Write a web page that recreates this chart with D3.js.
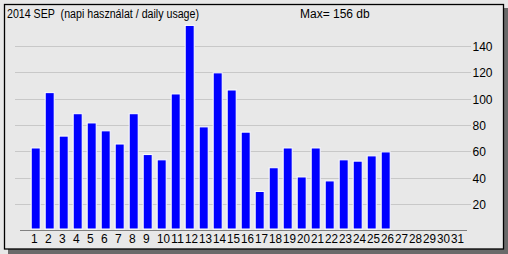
<!DOCTYPE html>
<html>
<head>
<meta charset="utf-8">
<script src="https://cdn.jsdelivr.net/npm/d3@7"></script>
<style>
  html, body { margin: 0; padding: 0; background: #e8e8e8; }
  svg { display: block; }
  text { font-family: "Liberation Sans", Arial, sans-serif; font-size: 11px; fill: #000; white-space: pre; }
</style>
</head>
<body>
<div id="chart"></div>
<script>
// napi használat, 2014 SEP
var days = d3.range(1, 32);
var usage = [63, 105, 72, 89, 82, 76, 66, 89, 58, 54, 104, 156, 79, 120, 107, 75,
             30, 48, 63, 41, 63, 38, 54, 53, 57, 60];
var yTicks = [20, 40, 60, 80, 100, 120, 140];
var titleText = "2014 SEP  (napi használat / daily usage)";
var maxText = "Max= " + d3.max(usage) + " db";

var width = 508, height = 254;

var svg = d3.select("#chart").append("svg")
	.attr("width", width)
	.attr("height", height);

// shadow + frame
svg.append("rect")
	.attr("x", 8).attr("y", 8)
	.attr("width", width - 8).attr("height", height - 8)
	.attr("fill", "#6a6a6a");
svg.append("rect")
	.attr("x", 4.5).attr("y", 4.5)
	.attr("width", 499).attr("height", 244.5)
	.attr("fill", "#e8e8e8")
	.attr("stroke", "#000")
	.attr("stroke-width", 1.3);

var x = d3.scaleBand().domain(days).range([29.7, 463.7]);
var y = d3.scaleLinear().domain([0, 140]).range([230.5, 46]);

// gridlines
svg.append("g").selectAll("line")
	.data(yTicks)
	.enter().append("line")
	.attr("x1", 15).attr("x2", 471)
	.attr("y1", function (d) { return Math.round(y(d)) + 0.5; })
	.attr("y2", function (d) { return Math.round(y(d)) + 0.5; })
	.attr("stroke", "#c8c8c8");

svg.append("g").selectAll("text")
	.data(yTicks)
	.enter().append("text")
	.attr("x", 472.5)
	.attr("y", function (d) { return Math.round(y(d)) + 4.5; })
	.style("font-size", "12px")
	.text(function (d) { return d; });

// bars
svg.append("g").selectAll("rect")
	.data(usage)
	.enter().append("rect")
	.attr("x", function (d, i) { return x(days[i]) + 1.5; })
	.attr("width", 9)
	.attr("y", function (d) { return y(d) + 0.5; })
	.attr("height", function (d) { return y(0) - 2 - y(d); })
	.attr("fill", "#0000ff")
	.attr("stroke", "#fff")
	.attr("stroke-width", 1);

// base line
svg.append("line")
	.attr("x1", 20).attr("x2", 467)
	.attr("y1", 230.5).attr("y2", 230.5)
	.attr("stroke", "#808080");

// day labels
svg.append("g").selectAll("text")
	.data(days)
	.enter().append("text")
	.attr("x", function (d) { return x(d) + 1.3; })
	.attr("y", 243)
	.style("font-size", "12px")
	.attr("textLength", function (d) { return d > 9 ? 13 : null; })
	.attr("lengthAdjust", "spacingAndGlyphs")
	.text(function (d) { return d; });

svg.append("text").attr("x", 7).attr("y", 17.5).style("font-size", "12px")
	.attr("textLength", 192).attr("lengthAdjust", "spacingAndGlyphs")
	.text(titleText);
svg.append("text").attr("x", 300).attr("y", 17.5).style("font-size", "12px")
	.text(maxText);
</script>
</body>
</html>
